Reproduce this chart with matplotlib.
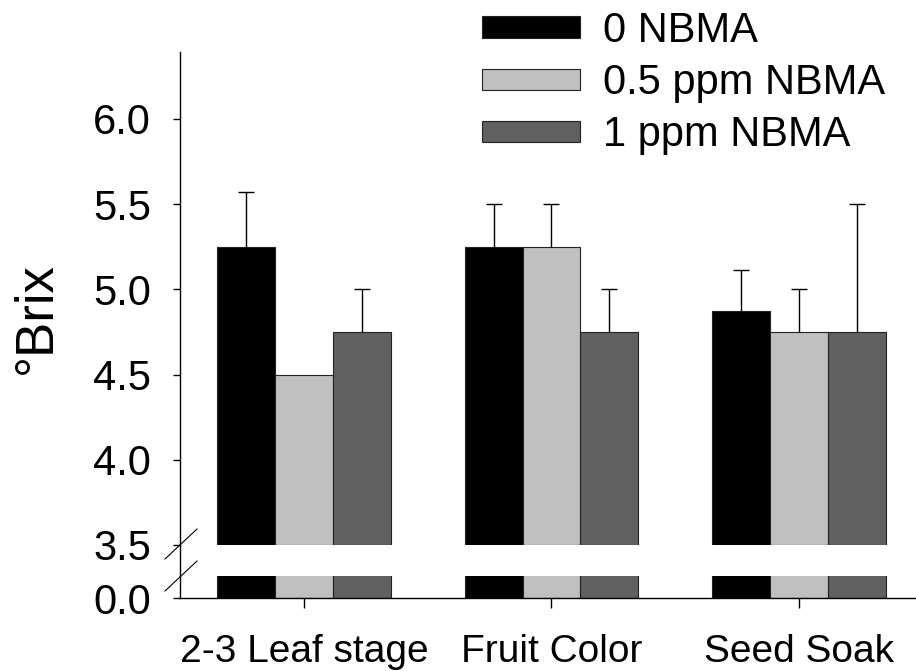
import numpy as np
import matplotlib
matplotlib.use('Agg')
import matplotlib.pyplot as plt
from matplotlib.lines import Line2D

plt.rcParams['font.family'] = ['Liberation Sans', 'DejaVu Sans']

# data
stages = ['2-3 Leaf stage', 'Fruit Color', 'Seed Soak']
treatments = ['0 NBMA', '0.5 ppm NBMA', '1 ppm NBMA']
brix_0 = [5.25, 5.25, 4.875]
brix_05 = [4.5, 5.25, 4.75]
brix_1 = [4.75, 4.75, 4.75]
err_0 = [0.32, 0.25, 0.24]
err_05 = [0.0, 0.25, 0.25]
err_1 = [0.25, 0.25, 0.75]
colors = ['#000000', '#c0c0c0', '#606060']

yticks_top = [3.5, 4.0, 4.5, 5.0, 5.5, 6.0]

W, H = 916, 671
fig = plt.figure(figsize=(W / 100, H / 100), dpi=100)

# pixel layout helpers
def fx(px):
    return px / W

def fy(py):
    return 1 - py / H

left, right = 180, 915
ax = fig.add_axes([fx(left), fy(545), fx(right - left), fy(52) - fy(545)])
axb = fig.add_axes([fx(left), fy(598), fx(right - left), fy(576) - fy(598)], sharex=ax)

x = np.arange(len(stages))
w = 0.234
series = [brix_0, brix_05, brix_1]
errs = [err_0, err_05, err_1]

handles = []
for i, (vals, e, c) in enumerate(zip(series, errs, colors)):
    pos = x + (i - 1) * w
    vals = np.array(vals)
    e = np.array(e)
    b = ax.bar(pos, vals - 3.5, width=w, bottom=3.5, color=c, edgecolor='#222222',
               linewidth=0.8, label=treatments[i])
    handles.append(b)
    # upward-only error bars, skip zero errors
    m = e > 0
    eb = ax.errorbar(pos[m], vals[m], yerr=[np.zeros(m.sum()), e[m]], fmt='none',
                     ecolor='black', elinewidth=1.0, capsize=6, capthick=1.0)
    eb[1][0].set_visible(False)
    axb.bar(pos, vals, width=w, color=c, edgecolor='#222222', linewidth=0.8)

ax.set_ylim(3.5, 6.393)
axb.set_ylim(0, 0.0646)
ax.set_xlim(-0.501, 2.469)

ax.set_yticks(yticks_top)
ax.set_yticklabels(['%.1f' % v for v in yticks_top])
axb.set_yticks([0.0])
axb.set_yticklabels(['0.0'])

for a in (ax, axb):
    a.spines['top'].set_visible(False)
    a.spines['right'].set_visible(False)
    a.spines['left'].set_linewidth(1.0)
    a.tick_params(axis='y', direction='out', length=5, width=1.0, pad=16, labelsize=30)
ax.spines['bottom'].set_visible(False)
ax.tick_params(axis='x', bottom=False, labelbottom=False)
axb.spines['bottom'].set_linewidth(1.0)
axb.set_xticks(x)
axb.set_xticklabels(stages)
axb.tick_params(axis='x', direction='out', length=7, width=1.0, pad=19, labelsize=28)

# continue the y axis through the break and add break marks
fig.add_artist(Line2D([fx(left), fx(left)], [fy(545), fy(576)], color='black', lw=1.0))
for cy in (544, 576):
    fig.add_artist(Line2D([fx(165), fx(197)], [fy(cy + 15), fy(cy - 15)], color='black', lw=0.8))

fig.text(fx(37), fy(318), '\u00b0Brix', rotation=90, ha='center', va='center', fontsize=38)

fig.legend(handles=handles, labels=treatments, loc='upper left',
           bbox_to_anchor=(fx(482), fy(11)), frameon=False, fontsize=30,
           borderpad=0, borderaxespad=0, handlelength=2.35, handleheight=0.41,
           handletextpad=0.55, labelspacing=0.29)

fig.savefig('out.png', dpi=100)
